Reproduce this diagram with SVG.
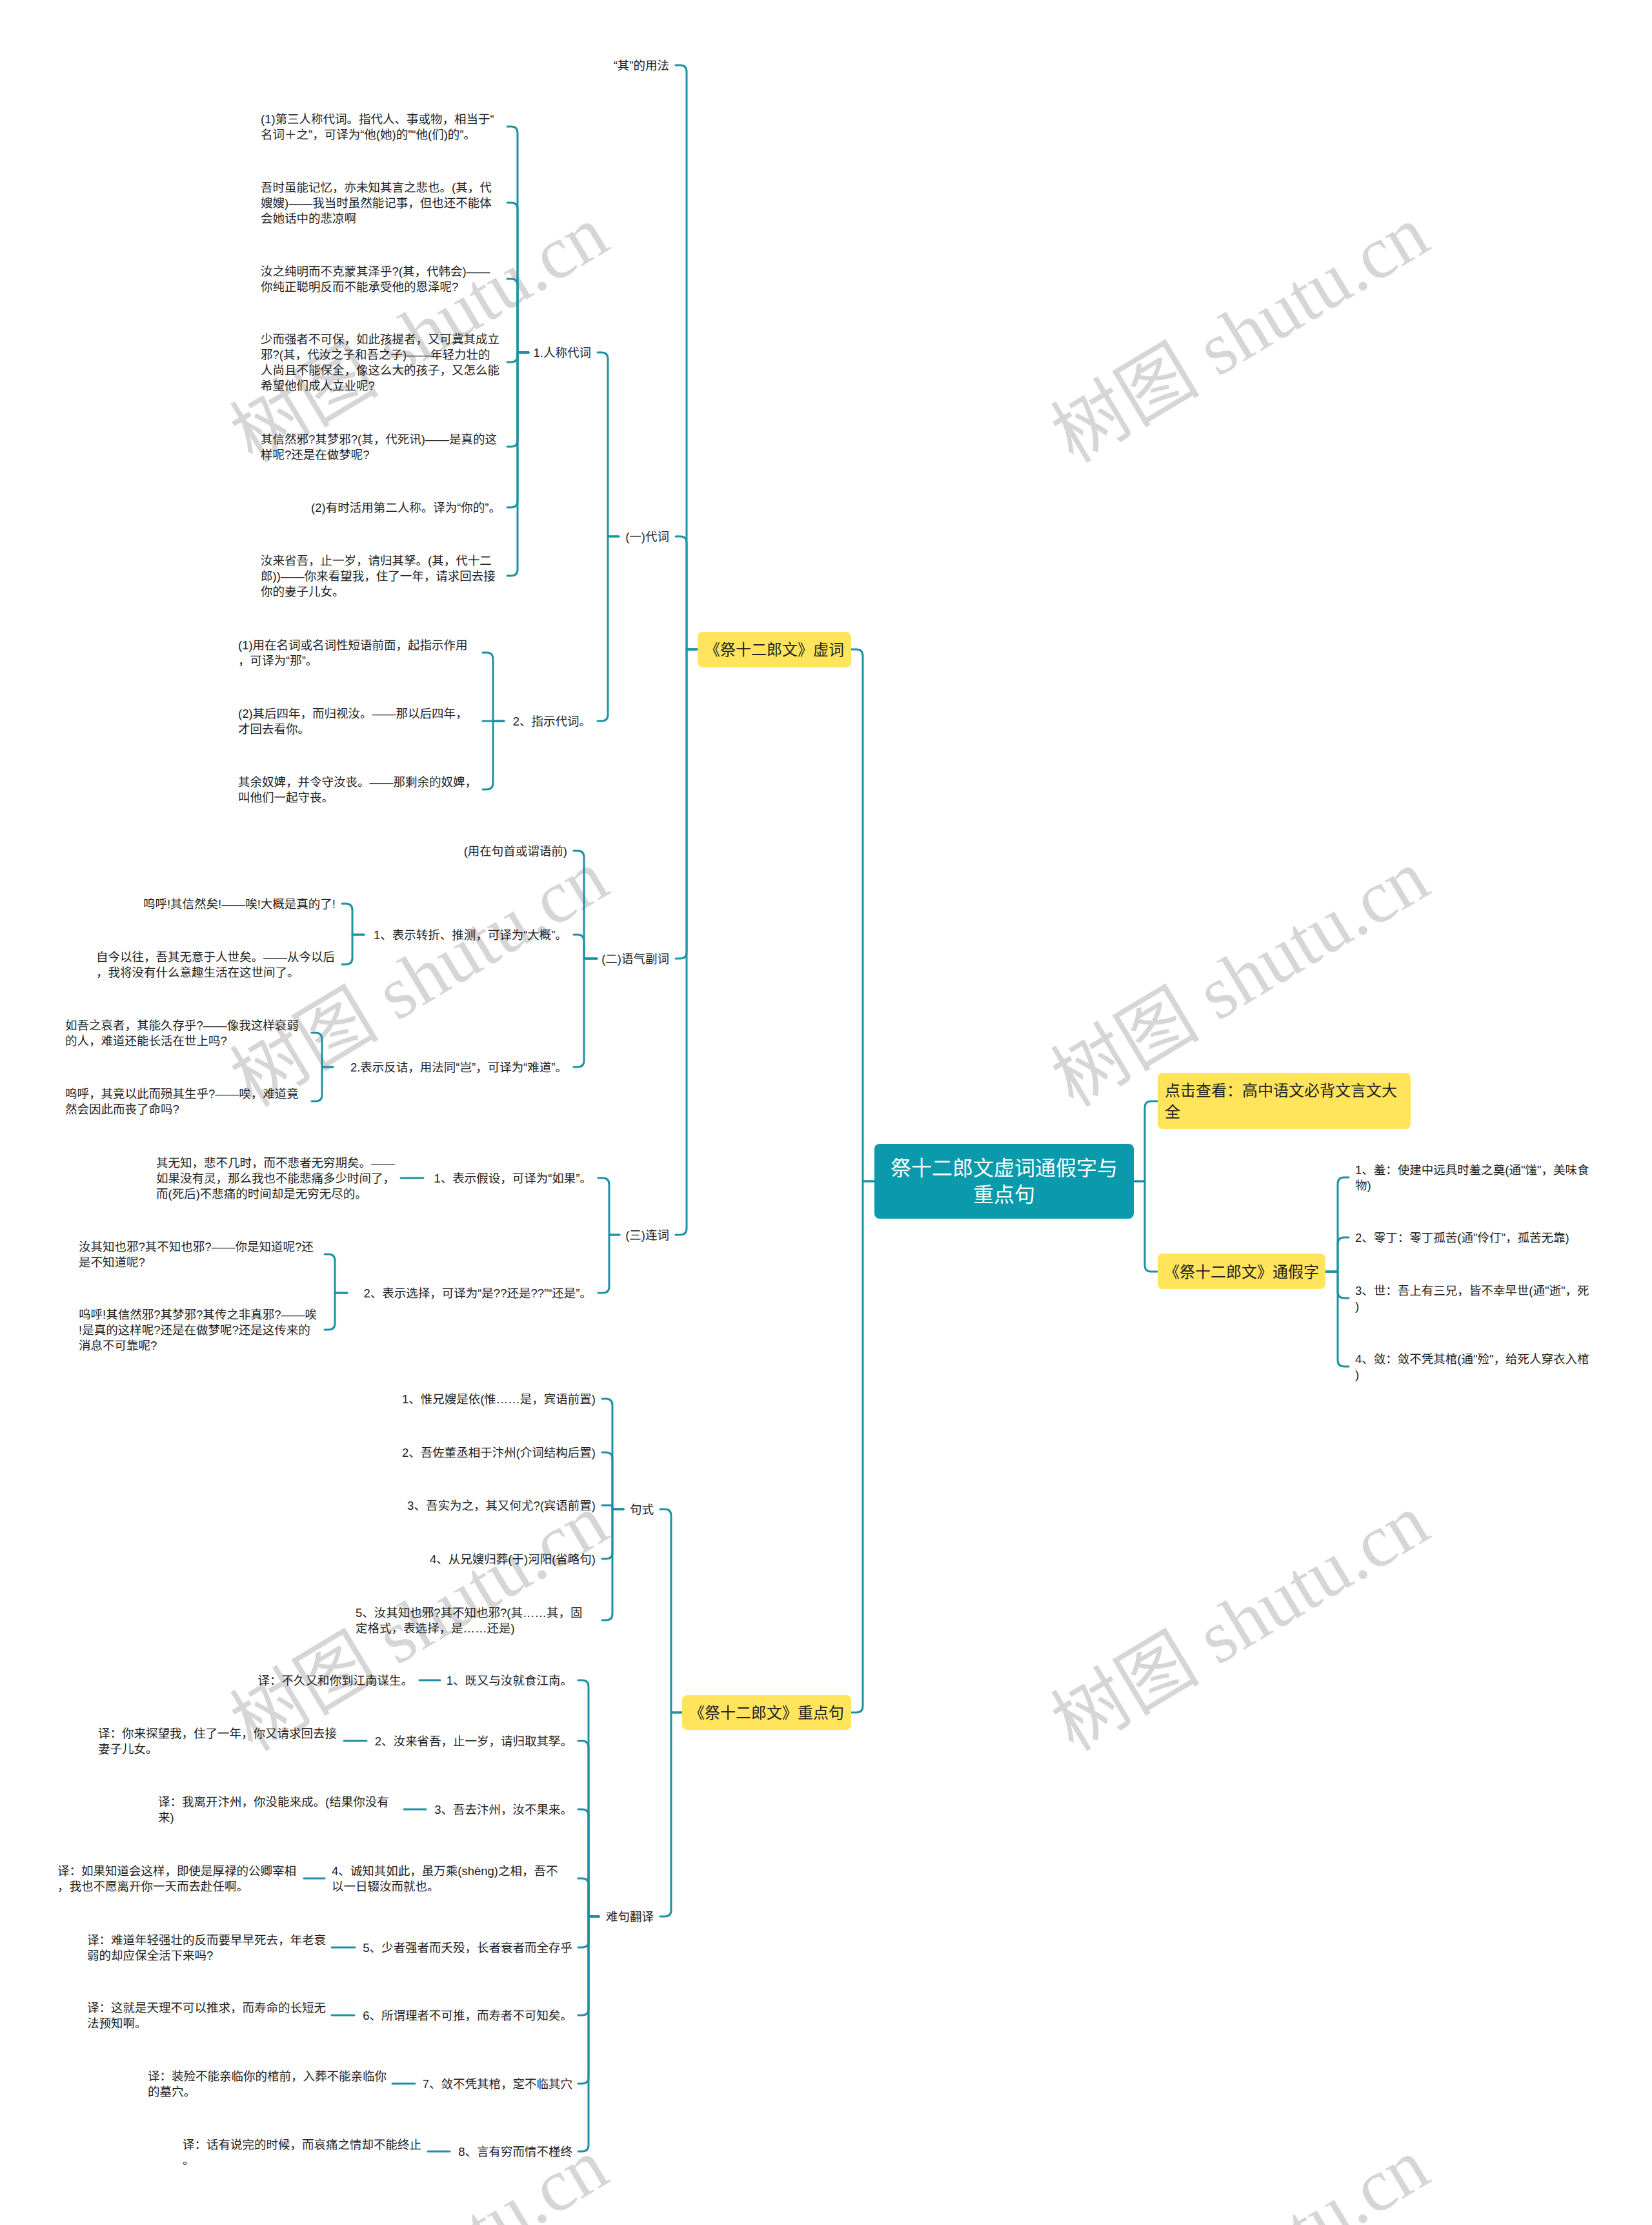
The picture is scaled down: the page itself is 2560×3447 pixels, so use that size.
<svg xmlns="http://www.w3.org/2000/svg" width="2560" height="3447" viewBox="0 0 2560 3447">
<style>
.t{font-family:"Liberation Sans","Noto Sans CJK SC",sans-serif;font-size:18.5px;fill:#222}
.e{text-anchor:end}
.n{font-family:"Liberation Sans","Noto Sans CJK SC",sans-serif;font-size:24px;fill:#222}
.m{text-anchor:middle}
.title{font-family:"Liberation Sans","Noto Sans CJK SC",sans-serif;font-size:32px;fill:#fff;text-anchor:middle}
.c{fill:none;stroke:#1c92a2;stroke-width:3;stroke-linecap:round;stroke-linejoin:round}
.y{fill:#ffe45c}
.wm{font-family:"Liberation Serif","Noto Sans CJK SC",serif;font-size:116px;fill:#000;fill-opacity:0.16;text-anchor:middle;dominant-baseline:central}
</style>
<rect width="2560" height="3447" fill="#fff"/>
<g id="watermark">
<text class="wm" transform="translate(650,518) rotate(-31)">树图 shutu.cn</text>
<text class="wm" transform="translate(1922,518) rotate(-31)">树图 shutu.cn</text>
<text class="wm" transform="translate(650,1516) rotate(-31)">树图 shutu.cn</text>
<text class="wm" transform="translate(1922,1516) rotate(-31)">树图 shutu.cn</text>
<text class="wm" transform="translate(650,2514) rotate(-31)">树图 shutu.cn</text>
<text class="wm" transform="translate(1922,2514) rotate(-31)">树图 shutu.cn</text>
<text class="wm" transform="translate(650,3512) rotate(-31)">树图 shutu.cn</text>
<text class="wm" transform="translate(1922,3512) rotate(-31)">树图 shutu.cn</text>
</g>
<g id="connectors">
<path class="c" d="M1355 1830 H1337 V1016 Q1337 1006 1327 1006 H1319"/>
<path class="c" d="M1355 1830 H1337 V2643 Q1337 2653 1327 2653 H1319"/>
<path class="c" d="M1757 1830 H1774 V1716 Q1774 1706 1784 1706 H1794"/>
<path class="c" d="M1757 1830 H1774 V1960 Q1774 1970 1784 1970 H1794"/>
<path class="c" d="M2054 1970 H2073 V1834 Q2073 1824 2083 1824 H2090"/>
<path class="c" d="M2054 1970 H2073 V1927 Q2073 1917 2083 1917 H2090"/>
<path class="c" d="M2054 1970 H2073 V2001 Q2073 2011 2083 2011 H2090"/>
<path class="c" d="M2054 1970 H2073 V2107 Q2073 2117 2083 2117 H2090"/>
<path class="c" d="M1081 1006 H1064 V111 Q1064 101 1054 101 H1047"/>
<path class="c" d="M1081 1006 H1064 V841 Q1064 831 1054 831 H1047"/>
<path class="c" d="M1081 1006 H1064 V1475 Q1064 1485 1054 1485 H1047"/>
<path class="c" d="M1081 1006 H1064 V1903 Q1064 1913 1054 1913 H1047"/>
<path class="c" d="M959 831 H942 V556 Q942 546 932 546 H926"/>
<path class="c" d="M959 831 H942 V1107 Q942 1117 932 1117 H926"/>
<path class="c" d="M819 546 H802 V206 Q802 196 792 196 H786"/>
<path class="c" d="M819 546 H802 V324 Q802 314 792 314 H786"/>
<path class="c" d="M819 546 H802 V442 Q802 432 792 432 H786"/>
<path class="c" d="M819 546 H802 V551 Q802 561 792 561 H786"/>
<path class="c" d="M819 546 H802 V682 Q802 692 792 692 H786"/>
<path class="c" d="M819 546 H802 V776 Q802 786 792 786 H786"/>
<path class="c" d="M819 546 H802 V882 Q802 892 792 892 H786"/>
<path class="c" d="M781 1117 H764 V1021 Q764 1011 754 1011 H748"/>
<path class="c" d="M781 1117 H748"/>
<path class="c" d="M781 1117 H764 V1213 Q764 1223 754 1223 H748"/>
<path class="c" d="M925 1485 H905 V1328 Q905 1318 895 1318 H889"/>
<path class="c" d="M925 1485 H905 V1458 Q905 1448 895 1448 H889"/>
<path class="c" d="M925 1485 H905 V1643 Q905 1653 895 1653 H889"/>
<path class="c" d="M564 1448 H546 V1410 Q546 1400 536 1400 H530"/>
<path class="c" d="M564 1448 H546 V1484 Q546 1494 536 1494 H530"/>
<path class="c" d="M516 1653 H499 V1610 Q499 1600 489 1600 H483"/>
<path class="c" d="M516 1653 H499 V1696 Q499 1706 489 1706 H483"/>
<path class="c" d="M960 1913 H944 V1835 Q944 1825 934 1825 H927"/>
<path class="c" d="M960 1913 H944 V1993 Q944 2003 934 2003 H927"/>
<path class="c" d="M656 1825 H621"/>
<path class="c" d="M538 2003 H519 V1953 Q519 1943 509 1943 H503"/>
<path class="c" d="M538 2003 H519 V2050 Q519 2060 509 2060 H503"/>
<path class="c" d="M1057 2653 H1040 V2348 Q1040 2338 1030 2338 H1023"/>
<path class="c" d="M1057 2653 H1040 V2959 Q1040 2969 1030 2969 H1023"/>
<path class="c" d="M966 2338 H949 V2177 Q949 2167 939 2167 H933"/>
<path class="c" d="M966 2338 H949 V2260 Q949 2250 939 2250 H933"/>
<path class="c" d="M966 2338 H949 V2335 Q949 2332 946 2332 H933"/>
<path class="c" d="M966 2338 H949 V2405 Q949 2415 939 2415 H933"/>
<path class="c" d="M966 2338 H949 V2500 Q949 2510 939 2510 H933"/>
<path class="c" d="M928 2969 H912 V2613 Q912 2603 902 2603 H896"/>
<path class="c" d="M928 2969 H912 V2707 Q912 2697 902 2697 H896"/>
<path class="c" d="M928 2969 H912 V2813 Q912 2803 902 2803 H896"/>
<path class="c" d="M928 2969 H912 V2920 Q912 2910 902 2910 H896"/>
<path class="c" d="M928 2969 H912 V3007 Q912 3017 902 3017 H896"/>
<path class="c" d="M928 2969 H912 V3112 Q912 3122 902 3122 H896"/>
<path class="c" d="M928 2969 H912 V3218 Q912 3228 902 3228 H896"/>
<path class="c" d="M928 2969 H912 V3323 Q912 3333 902 3333 H896"/>
<path class="c" d="M682 2603 H650"/>
<path class="c" d="M568 2697 H533"/>
<path class="c" d="M660 2803 H626"/>
<path class="c" d="M503 2910 H471"/>
<path class="c" d="M550 3017 H514"/>
<path class="c" d="M549 3122 H514"/>
<path class="c" d="M643 3228 H608"/>
<path class="c" d="M697 3333 H663"/>
</g>
<g id="root">
<rect x="1355" y="1772" width="402" height="116" rx="8" fill="#0a9aab"/>
<text class="title" x="1556" y="1821">祭十二郎文虚词通假字与</text>
<text class="title" x="1556" y="1862">重点句</text>
</g>
<g id="xuci">
<rect class="y" x="1081" y="979" width="238" height="55" rx="8"/>
<text class="n m" x="1200" y="1015">《祭十二郎文》虚词</text>
</g>
<g id="zhongdianju">
<rect class="y" x="1057" y="2626" width="262" height="54" rx="8"/>
<text class="n m" x="1188" y="2662">《祭十二郎文》重点句</text>
</g>
<g id="dianji">
<rect class="y" x="1794" y="1662" width="392" height="87" rx="8"/>
<text class="n" x="1805" y="1698">点击查看：高中语文必背文言文大</text>
<text class="n" x="1805" y="1731">全</text>
</g>
<g id="tongjiazi">
<rect class="y" x="1794" y="1942" width="260" height="55" rx="8"/>
<text class="n m" x="1924" y="1979">《祭十二郎文》通假字</text>
</g>
<g id="tjz-1"><text class="t" x="2100" y="1819">1、羞：使建中远具时羞之奠(通"馐"，美味食</text><text class="t" x="2100" y="1843">物)</text></g>
<g id="tjz-2"><text class="t" x="2100" y="1924">2、零丁：零丁孤苦(通"伶仃"，孤苦无靠)</text></g>
<g id="tjz-3"><text class="t" x="2100" y="2006">3、世：吾上有三兄，皆不幸早世(通"逝"，死</text><text class="t" x="2100" y="2030">)</text></g>
<g id="tjz-4"><text class="t" x="2100" y="2112">4、敛：敛不凭其棺(通"殓"，给死人穿衣入棺</text><text class="t" x="2100" y="2136">)</text></g>
<g id="qi-yongfa"><text class="t e" x="1037" y="108">“其”的用法</text></g>
<g id="daici"><text class="t e" x="1037" y="838">(一)代词</text></g>
<g id="yuqi"><text class="t e" x="1037" y="1492">(二)语气副词</text></g>
<g id="lianci"><text class="t e" x="1037" y="1920">(三)连词</text></g>
<g id="renchen"><text class="t e" x="916" y="553">1.人称代词</text></g>
<g id="zhishi"><text class="t e" x="916" y="1124">2、指示代词。</text></g>
<g id="rc-1"><text class="t" x="404" y="191">(1)第三人称代词。指代人、事或物，相当于“</text><text class="t" x="404" y="215">名词＋之”，可译为“他(她)的”“他(们)的”。</text></g>
<g id="rc-2"><text class="t" x="404" y="297">吾时虽能记忆，亦未知其言之悲也。(其，代</text><text class="t" x="404" y="321">嫂嫂)——我当时虽然能记事，但也还不能体</text><text class="t" x="404" y="345">会她话中的悲凉啊</text></g>
<g id="rc-3"><text class="t" x="404" y="427">汝之纯明而不克蒙其泽乎?(其，代韩会)——</text><text class="t" x="404" y="451">你纯正聪明反而不能承受他的恩泽呢?</text></g>
<g id="rc-4"><text class="t" x="404" y="532">少而强者不可保，如此孩提者，又可冀其成立</text><text class="t" x="404" y="556">邪?(其，代汝之子和吾之子)——年轻力壮的</text><text class="t" x="404" y="580">人尚且不能保全，像这么大的孩子，又怎么能</text><text class="t" x="404" y="604">希望他们成人立业呢?</text></g>
<g id="rc-5"><text class="t" x="404" y="687">其信然邪?其梦邪?(其，代死讯)——是真的这</text><text class="t" x="404" y="711">样呢?还是在做梦呢?</text></g>
<g id="rc-6"><text class="t e" x="776" y="793">(2)有时活用第二人称。译为“你的”。</text></g>
<g id="rc-7"><text class="t" x="404" y="875">汝来省吾，止一岁，请归其孥。(其，代十二</text><text class="t" x="404" y="899">郎))——你来看望我，住了一年，请求回去接</text><text class="t" x="404" y="923">你的妻子儿女。</text></g>
<g id="zs-1"><text class="t" x="369" y="1006">(1)用在名词或名词性短语前面，起指示作用</text><text class="t" x="369" y="1030">，可译为“那”。</text></g>
<g id="zs-2"><text class="t" x="369" y="1112">(2)其后四年，而归视汝。——那以后四年，</text><text class="t" x="369" y="1136">才回去看你。</text></g>
<g id="zs-3"><text class="t" x="369" y="1218">其余奴婢，并令守汝丧。——那剩余的奴婢，</text><text class="t" x="369" y="1242">叫他们一起守丧。</text></g>
<g id="yq-0"><text class="t e" x="879" y="1325">(用在句首或谓语前)</text></g>
<g id="yq-1"><text class="t e" x="879" y="1455">1、表示转折、推测，可译为“大概”。</text></g>
<g id="yq-2"><text class="t e" x="879" y="1660">2.表示反诘，用法同“岂”，可译为“难道”。</text></g>
<g id="yq-1-1"><text class="t e" x="520" y="1407">呜呼!其信然矣!——唉!大概是真的了!</text></g>
<g id="yq-1-2"><text class="t" x="149" y="1489">自今以往，吾其无意于人世矣。——从今以后</text><text class="t" x="149" y="1513">，我将没有什么意趣生活在这世间了。</text></g>
<g id="yq-2-1"><text class="t" x="101" y="1595">如吾之哀者，其能久存乎?——像我这样衰弱</text><text class="t" x="101" y="1619">的人，难道还能长活在世上吗?</text></g>
<g id="yq-2-2"><text class="t" x="101" y="1701">呜呼，其竟以此而殒其生乎?——唉，难道竟</text><text class="t" x="101" y="1725">然会因此而丧了命吗?</text></g>
<g id="lc-1"><text class="t e" x="917" y="1832">1、表示假设，可译为“如果”。</text></g>
<g id="lc-2"><text class="t e" x="917" y="2010">2、表示选择，可译为“是??还是??”“还是”。</text></g>
<g id="lc-1-1"><text class="t" x="242" y="1808">其无知，悲不几时，而不悲者无穷期矣。——</text><text class="t" x="242" y="1832">如果没有灵，那么我也不能悲痛多少时间了，</text><text class="t" x="242" y="1856">而(死后)不悲痛的时间却是无穷无尽的。</text></g>
<g id="lc-2-1"><text class="t" x="122" y="1938">汝其知也邪?其不知也邪?——你是知道呢?还</text><text class="t" x="122" y="1962">是不知道呢?</text></g>
<g id="lc-2-2"><text class="t" x="122" y="2043">呜呼!其信然邪?其梦邪?其传之非真邪?——唉</text><text class="t" x="122" y="2067">!是真的这样呢?还是在做梦呢?还是这传来的</text><text class="t" x="122" y="2091">消息不可靠呢?</text></g>
<g id="jushi"><text class="t e" x="1013" y="2345">句式</text></g>
<g id="nanju"><text class="t e" x="1013" y="2976">难句翻译</text></g>
<g id="js-1"><text class="t e" x="923" y="2174">1、惟兄嫂是依(惟……是，宾语前置)</text></g>
<g id="js-2"><text class="t e" x="923" y="2257">2、吾佐董丞相于汴州(介词结构后置)</text></g>
<g id="js-3"><text class="t e" x="923" y="2339">3、吾实为之，其又何尤?(宾语前置)</text></g>
<g id="js-4"><text class="t e" x="923" y="2422">4、从兄嫂归葬(于)河阳(省略句)</text></g>
<g id="js-5"><text class="t" x="551" y="2505">5、汝其知也邪?其不知也邪?(其……其，固</text><text class="t" x="551" y="2529">定格式，表选择，是……还是)</text></g>
<g id="nj-1"><text class="t e" x="887" y="2610">1、既又与汝就食江南。</text></g>
<g id="nj-2"><text class="t e" x="887" y="2704">2、汝来省吾，止一岁，请归取其孥。</text></g>
<g id="nj-3"><text class="t e" x="887" y="2810">3、吾去汴州，汝不果来。</text></g>
<g id="nj-4"><text class="t" x="514" y="2905">4、诚知其如此，虽万乘(shèng)之相，吾不</text><text class="t" x="514" y="2929">以一日辍汝而就也。</text></g>
<g id="nj-5"><text class="t e" x="887" y="3024">5、少者强者而夭殁，长者衰者而全存乎</text></g>
<g id="nj-6"><text class="t e" x="887" y="3129">6、所谓理者不可推，而寿者不可知矣。</text></g>
<g id="nj-7"><text class="t e" x="887" y="3235">7、敛不凭其棺，窆不临其穴</text></g>
<g id="nj-8"><text class="t e" x="887" y="3340">8、言有穷而情不槿终</text></g>
<g id="yi-1"><text class="t e" x="640" y="2610">译：不久又和你到江南谋生。</text></g>
<g id="yi-2"><text class="t" x="152" y="2692">译：你来探望我，住了一年，你又请求回去接</text><text class="t" x="152" y="2716">妻子儿女。</text></g>
<g id="yi-3"><text class="t" x="245" y="2798">译：我离开汴州，你没能来成。(结果你没有</text><text class="t" x="245" y="2822">来)</text></g>
<g id="yi-4"><text class="t" x="89" y="2905">译：如果知道会这样，即使是厚禄的公卿宰相</text><text class="t" x="89" y="2929">，我也不愿离开你一天而去赴任啊。</text></g>
<g id="yi-5"><text class="t" x="135" y="3012">译：难道年轻强壮的反而要早早死去，年老衰</text><text class="t" x="135" y="3036">弱的却应保全活下来吗?</text></g>
<g id="yi-6"><text class="t" x="135" y="3117">译：这就是天理不可以推求，而寿命的长短无</text><text class="t" x="135" y="3141">法预知啊。</text></g>
<g id="yi-7"><text class="t" x="229" y="3223">译：装殓不能亲临你的棺前，入葬不能亲临你</text><text class="t" x="229" y="3247">的墓穴。</text></g>
<g id="yi-8"><text class="t" x="283" y="3329">译：话有说完的时候，而哀痛之情却不能终止</text><text class="t" x="283" y="3353">。</text></g>
</svg>
